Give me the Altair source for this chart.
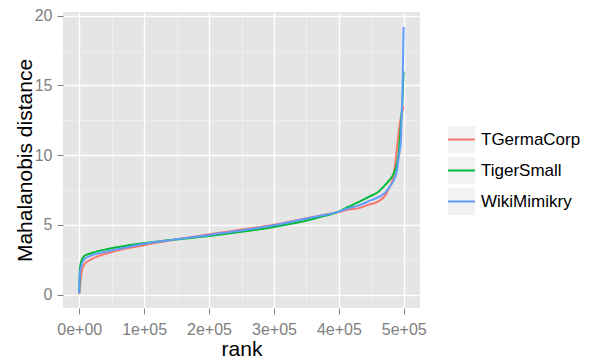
import altair as alt
import pandas as pd

series_names = ["TGermaCorp", "TigerSmall", "WikiMimikry"]
series_colors = ["#F8766D", "#00BA38", "#619CFF"]
key_boxes = ["k1", "k2", "k3"]

ranks_red = [0, 1800, 3500, 7700, 20500, 46000, 92000, 130000, 200000, 250000, 300000,
             340000, 370000, 400000, 415000, 431000, 446000, 461500, 472000, 477000,
             484600, 489700, 492000, 494000, 497000, 499800]
vals_red = [0.05, 0.9, 1.6, 2.17, 2.57, 3.0, 3.47, 3.8, 4.33, 4.66, 5.0,
            5.38, 5.65, 5.92, 6.1, 6.2, 6.45, 6.7, 7.15, 7.6,
            8.6, 10.6, 11.6, 12.3, 13.0, 13.5]

ranks_green = [0, 800, 2500, 7700, 20500, 46000, 92000, 130000, 200000, 250000, 300000,
               340000, 370000, 400000, 415000, 431000, 446000, 461500, 472000, 477000,
               484600, 489700, 492300, 494500, 496000, 498000, 499800]
vals_green = [0.1, 1.7, 2.3, 2.76, 3.0, 3.28, 3.64, 3.86, 4.2, 4.5, 4.85,
              5.2, 5.55, 5.95, 6.3, 6.65, 7.0, 7.4, 7.9, 8.15,
              8.7, 9.4, 10.2, 11.5, 12.5, 14.0, 16.0]

ranks_blue = [0, 1000, 3000, 7700, 20500, 46000, 92000, 130000, 200000, 250000, 300000,
              340000, 370000, 400000, 415000, 431000, 446000, 461500, 472000, 477000,
              484600, 489700, 492300, 495500, 496500, 498000, 499800]
vals_blue = [0.1, 1.5, 2.0, 2.52, 2.83, 3.12, 3.57, 3.84, 4.28, 4.6, 4.97,
             5.35, 5.63, 5.95, 6.2, 6.4, 6.7, 7.0, 7.35, 7.65,
             8.2, 8.95, 9.9, 11.0, 12.5, 14.5, 19.2]

x_ticks = [0, 50000, 100000, 150000, 200000, 250000, 300000, 350000, 400000, 450000, 500000]
y_ticks = [0, 2.5, 5, 7.5, 10, 12.5, 15, 17.5, 20]

rows = []
for name, rs, vs in zip(series_names, [ranks_red, ranks_green, ranks_blue],
                        [vals_red, vals_green, vals_blue]):
    for r, v in zip(rs, vs):
        rows.append({"series": name, "rank": r, "value": v})
df = pd.DataFrame(rows)

FONT = "Liberation Sans"
GREY = "#7F7F7F"

x_axis = alt.Axis(
    values=x_ticks,
    title="rank",
    titleFontSize=21, titleFont=FONT, titleColor="black", titleFontWeight="normal",
    titleBaseline="alphabetic", titleY=47,
    labelFontSize=16, labelFont=FONT, labelColor=GREY,
    labelBaseline="alphabetic", labelPadding=20, labelOverlap=False,
    labelExpr="datum.value % 100000 === 0 ? (datum.value === 0 ? '0e+00' : (datum.value/100000) + 'e+05') : ''",
    tickSize=6,
    tickColor={"condition": {"test": "datum.value % 100000 !== 0", "value": "transparent"}, "value": GREY},
    gridColor={"condition": {"test": "datum.value % 100000 !== 0", "value": "#F2F2F2"}, "value": "#FFFFFF"},
    gridWidth={"condition": {"test": "datum.value % 100000 !== 0", "value": 0.7}, "value": 1.4},
    domain=False,
)
y_axis = alt.Axis(
    values=y_ticks,
    title="Mahalanobis distance",
    titleFontSize=21, titleFont=FONT, titleColor="black", titleFontWeight="normal",
    titleBaseline="alphabetic", titleX=-32,
    labelFontSize=16, labelFont=FONT, labelColor=GREY, labelPadding=5, labelOverlap=False,
    labelExpr="datum.value % 5 === 0 ? datum.label : ''",
    tickSize=6,
    tickColor={"condition": {"test": "datum.value % 5 !== 0", "value": "transparent"}, "value": GREY},
    gridColor={"condition": {"test": "datum.value % 5 !== 0", "value": "#F2F2F2"}, "value": "#FFFFFF"},
    gridWidth={"condition": {"test": "datum.value % 5 !== 0", "value": 0.7}, "value": 1.4},
    domain=False,
)

lines = alt.Chart(df).mark_line(strokeWidth=2, interpolate="monotone").encode(
    x=alt.X("rank:Q", scale=alt.Scale(domain=[-25000, 525000], nice=False, zero=False), axis=x_axis),
    y=alt.Y("value:Q", scale=alt.Scale(domain=[-0.965, 20.27], nice=False, zero=False), axis=y_axis),
    color=alt.Color("series:N", scale=alt.Scale(domain=series_names, range=series_colors),
                    legend=alt.Legend(orient="none", legendX=384, legendY=113, title=None,
                                      symbolType="stroke", symbolSize=729, symbolStrokeWidth=2,
                                      labelFontSize=17, labelFont=FONT, labelColor="black",
                                      labelOffset=5, rowPadding=2, padding=0, clipHeight=29,
                                      zindex=2)),
    order=alt.Order("rank:Q"),
)

bg = alt.Chart(df).transform_calculate(bg="'k1'").transform_filter("false").mark_point(
    filled=True, color="#F2F2F2", opacity=1
).encode(
    shape=alt.Shape("bg:N", scale=alt.Scale(domain=key_boxes, range=["square", "square", "square"]),
                    legend=alt.Legend(orient="none", legendX=384, legendY=113, title=None,
                                      symbolSize=729, symbolStrokeWidth=2,
                                      symbolFillColor="#F2F2F2", symbolStrokeColor="#F2F2F2",
                                      symbolOpacity=1, labelExpr="''",
                                      labelFontSize=17, labelFont=FONT,
                                      labelOffset=5, rowPadding=2, padding=0, clipHeight=29,
                                      zindex=1)),
)

chart = alt.layer(bg, lines).resolve_legend(shape="independent", color="independent").properties(
    width=357, height=296,
    padding={"left": 55, "top": 4, "right": 161, "bottom": 52},
    autosize=alt.AutoSizeParams(type="none"),
).configure_view(fill="#E5E5E5", strokeWidth=0)

chart.save("out.html", embed_options={"renderer": "svg", "actions": False})
